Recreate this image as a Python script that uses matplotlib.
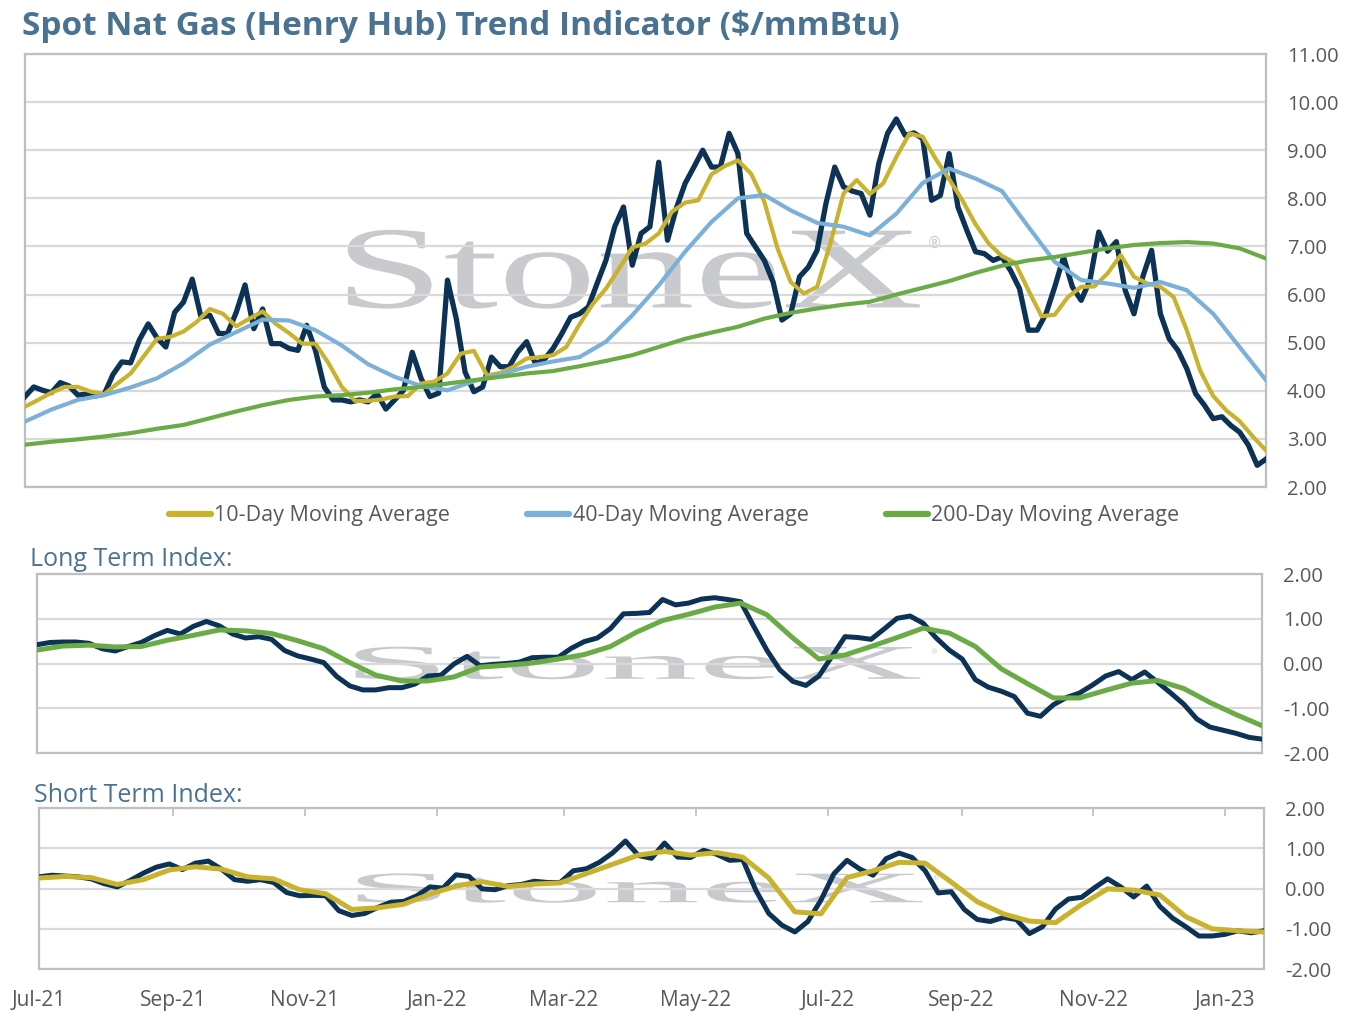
import numpy as np
import pandas as pd
import matplotlib
matplotlib.use('Agg')
import matplotlib.pyplot as plt
import matplotlib.dates as mdates
from matplotlib.textpath import TextPath
from matplotlib.patches import PathPatch
from matplotlib.font_manager import FontProperties
from matplotlib.transforms import Affine2D
from matplotlib.lines import Line2D

plt.rcParams['font.family'] = ['Open Sans', 'DejaVu Sans']

# %% data (evenly spaced samples between start and end)
date_start = '2021-07-01'
date_end = '2023-01-19'

spot_price = [
    3.88, 4.08, 4.01, 3.96, 4.17, 4.10, 3.91, 3.93, 3.89, 3.93,
    4.34, 4.60, 4.58, 5.06, 5.39, 5.10, 4.91, 5.63, 5.84, 6.32,
    5.53, 5.57, 5.19, 5.19, 5.63, 6.20, 5.29, 5.70, 4.98, 4.98,
    4.88, 4.84, 5.36, 4.84, 4.08, 3.81, 3.81, 3.77, 3.81, 3.77,
    3.94, 3.62, 3.81, 4.01, 4.80, 4.26, 3.88, 3.95, 6.30, 5.50,
    4.39, 3.98, 4.08, 4.70, 4.50, 4.50, 4.81, 5.02, 4.56, 4.65,
    4.88, 5.19, 5.53, 5.60, 5.74, 6.23, 6.71, 7.41, 7.82, 6.61,
    7.27, 7.41, 8.75, 7.13, 7.79, 8.31, 8.65, 9.00, 8.65, 8.65,
    9.35, 8.93, 7.27, 6.99, 6.71, 6.26, 5.47, 5.60, 6.37, 6.57,
    6.92, 7.89, 8.65, 8.24, 8.15, 8.10, 7.65, 8.72, 9.35, 9.65,
    9.31, 9.36, 9.24, 7.96, 8.06, 8.93, 7.82, 7.34, 6.89, 6.85,
    6.71, 6.78, 6.49, 6.12, 5.26, 5.26, 5.60, 6.16, 6.78, 6.16,
    5.88, 6.30, 7.30, 6.90, 7.10, 6.09, 5.60, 6.37, 6.92, 5.60,
    5.08, 4.84, 4.46, 3.94, 3.70, 3.42, 3.46, 3.28, 3.14, 2.87,
    2.45, 2.58]

ma_10 = [
    3.67, 3.81, 3.96, 4.08, 4.08, 3.98, 3.93, 4.15, 4.36, 4.72,
    5.08, 5.12, 5.23, 5.43, 5.70, 5.60, 5.34, 5.50, 5.65, 5.39,
    5.20, 4.98, 4.98, 4.57, 4.08, 3.79, 3.79, 3.82, 3.88, 3.89,
    4.15, 4.19, 4.36, 4.77, 4.83, 4.32, 4.37, 4.50, 4.67, 4.70,
    4.74, 4.91, 5.38, 5.80, 6.12, 6.54, 6.98, 7.06, 7.27, 7.72,
    7.91, 7.96, 8.50, 8.67, 8.79, 8.51, 7.93, 6.96, 6.26, 6.02,
    6.16, 7.06, 8.10, 8.38, 8.09, 8.31, 8.86, 9.35, 9.28, 8.81,
    8.40, 7.96, 7.46, 7.06, 6.80, 6.66, 6.09, 5.55, 5.58, 5.95,
    6.16, 6.17, 6.44, 6.82, 6.37, 6.23, 6.16, 5.95, 5.26, 4.43,
    3.89, 3.59, 3.37, 3.05, 2.76]

ma_40 = [
    3.36, 3.61, 3.81, 3.91, 4.07, 4.26, 4.57, 4.96, 5.22, 5.48,
    5.46, 5.26, 4.94, 4.55, 4.29, 4.10, 4.01, 4.20, 4.34, 4.50,
    4.61, 4.70, 5.02, 5.57, 6.19, 6.89, 7.51, 8.00, 8.07, 7.75,
    7.49, 7.41, 7.23, 7.68, 8.32, 8.62, 8.41, 8.15, 7.41, 6.68,
    6.30, 6.23, 6.14, 6.26, 6.09, 5.60, 4.91, 4.22]

ma_200 = [
    2.88, 2.94, 2.99, 3.05, 3.12, 3.21, 3.29, 3.43, 3.57, 3.70,
    3.81, 3.88, 3.91, 3.96, 4.03, 4.08, 4.15, 4.22, 4.29, 4.36,
    4.41, 4.51, 4.62, 4.74, 4.91, 5.08, 5.21, 5.33, 5.50, 5.62,
    5.71, 5.79, 5.85, 6.00, 6.14, 6.28, 6.45, 6.60, 6.71, 6.78,
    6.87, 6.96, 7.03, 7.07, 7.09, 7.06, 6.96, 6.75]

long_index = [
    0.42, 0.47, 0.48, 0.48, 0.45, 0.33, 0.28, 0.38, 0.47, 0.62,
    0.74, 0.66, 0.83, 0.94, 0.84, 0.66, 0.57, 0.60, 0.54, 0.29,
    0.17, 0.10, 0.02, -0.29, -0.50, -0.59, -0.59, -0.54, -0.54, -0.46,
    -0.28, -0.26, -0.01, 0.16, -0.05, -0.02, 0.00, 0.03, 0.13, 0.14,
    0.14, 0.34, 0.49, 0.57, 0.78, 1.11, 1.12, 1.14, 1.43, 1.31,
    1.35, 1.44, 1.47, 1.43, 1.38, 0.83, 0.30, -0.14, -0.40, -0.49,
    -0.28, 0.16, 0.60, 0.58, 0.54, 0.77, 1.01, 1.06, 0.90, 0.57,
    0.30, 0.10, -0.36, -0.53, -0.62, -0.74, -1.11, -1.18, -0.92, -0.76,
    -0.66, -0.48, -0.28, -0.18, -0.36, -0.19, -0.42, -0.66, -0.91, -1.24,
    -1.42, -1.49, -1.56, -1.65, -1.69]

long_signal = [
    0.30, 0.39, 0.41, 0.37, 0.38, 0.52, 0.63, 0.75, 0.73, 0.67,
    0.51, 0.33, 0.02, -0.26, -0.39, -0.39, -0.30, -0.08, -0.04, 0.01,
    0.10, 0.20, 0.38, 0.70, 0.96, 1.10, 1.26, 1.35, 1.09, 0.57,
    0.10, 0.19, 0.38, 0.58, 0.79, 0.68, 0.38, -0.12, -0.45, -0.77,
    -0.77, -0.60, -0.44, -0.38, -0.56, -0.87, -1.14, -1.39]

short_index = [
    0.29, 0.33, 0.31, 0.29, 0.24, 0.12, 0.04, 0.20, 0.38, 0.53,
    0.61, 0.47, 0.63, 0.68, 0.48, 0.22, 0.18, 0.22, 0.15, -0.10,
    -0.18, -0.17, -0.18, -0.55, -0.67, -0.62, -0.47, -0.34, -0.32, -0.18,
    0.04, 0.01, 0.34, 0.30, -0.01, -0.03, 0.07, 0.10, 0.18, 0.15,
    0.15, 0.44, 0.49, 0.65, 0.88, 1.18, 0.82, 0.75, 1.13, 0.78,
    0.77, 0.95, 0.85, 0.70, 0.72, -0.04, -0.62, -0.91, -1.08, -0.82,
    -0.29, 0.37, 0.70, 0.48, 0.33, 0.74, 0.88, 0.77, 0.44, -0.11,
    -0.08, -0.52, -0.77, -0.82, -0.72, -0.77, -1.12, -0.95, -0.51, -0.26,
    -0.22, 0.02, 0.24, 0.04, -0.21, 0.06, -0.44, -0.74, -0.95, -1.18,
    -1.18, -1.14, -1.05, -1.10, -1.05]

short_signal = [
    0.26, 0.30, 0.27, 0.10, 0.22, 0.46, 0.54, 0.48, 0.29, 0.24,
    -0.03, -0.13, -0.52, -0.48, -0.39, -0.14, 0.06, 0.17, 0.05, 0.11,
    0.14, 0.37, 0.60, 0.83, 0.92, 0.83, 0.89, 0.78, 0.26, -0.58,
    -0.63, 0.27, 0.44, 0.65, 0.63, 0.16, -0.33, -0.63, -0.81, -0.85,
    -0.40, -0.01, -0.04, -0.16, -0.70, -1.00, -1.05, -1.08]

legend_labels = ['10-Day Moving Average', '40-Day Moving Average',
                 '200-Day Moving Average']

# colours
c_navy = '#0c3355'
c_gold = '#c8b22e'
c_blue = '#7bb0d8'
c_green = '#6aab45'
c_grid = '#d9d9d9'
c_spine = '#bfbfbf'
c_text = '#595959'
c_head = '#4a7391'
c_mark = '#c9cacd'


def sample_dates(values):
    return pd.date_range(date_start, date_end, periods=len(values))


W, H = 1354., 1021.


def px_axes(left, top, right, bottom):
    # figure-fraction rectangle from pixel edges
    return [left/W, 1 - bottom/H, (right - left)/W, (bottom - top)/H]


def watermark(ax, reg_size):
    tp = TextPath((0, 0), 'StoneX', size=100,
                  prop=FontProperties(family='Liberation Serif'))
    ext = tp.get_extents()
    x0, x1, y0, y1 = 0.26, 0.721, 0.412, 0.594
    tr = (Affine2D().translate(-ext.x0, -ext.y0)
          .scale((x1 - x0)/ext.width, (y1 - y0)/ext.height)
          .translate(x0, y0))
    ax.add_patch(PathPatch(tr.transform_path(tp), transform=ax.transAxes,
                           fc=c_mark, ec='none', zorder=0.2))
    ax.text(0.733, 0.562, '\u00ae', transform=ax.transAxes, fontsize=reg_size,
            color=c_mark, ha='center', va='center', zorder=0.2,
            family='DejaVu Sans')


def style_axes(ax, ylim, yticks):
    ax.set_xlim(pd.Timestamp(date_start), pd.Timestamp(date_end))
    ax.set_ylim(ylim)
    ax.set_yticks(yticks)
    ax.yaxis.set_major_formatter(matplotlib.ticker.FormatStrFormatter('%.2f'))
    ax.yaxis.tick_right()
    ax.tick_params(axis='y', length=0, pad=15, labelsize=14.5,
                   labelcolor=c_text)
    ax.set_axisbelow(True)
    ax.grid(axis='y', color=c_grid, lw=1.6)
    ax.grid(axis='x', visible=False)
    for sp in ax.spines.values():
        sp.set_color(c_spine)
        sp.set_linewidth(1.6)
    ax.xaxis.set_major_locator(mdates.MonthLocator(bymonth=[1, 3, 5, 7, 9, 11]))
    ax.xaxis.set_major_formatter(mdates.DateFormatter('%b-%y'))


fig = plt.figure(figsize=(13.54, 10.21), dpi=100)

# %% main price panel
ax_p = fig.add_axes(px_axes(25, 54, 1266, 487))
ax_p.plot(sample_dates(spot_price), spot_price, color=c_navy, lw=3.8,
          zorder=3)
ax_p.plot(sample_dates(ma_10), ma_10, color=c_gold, lw=3.0, zorder=4)
ax_p.plot(sample_dates(ma_40), ma_40, color=c_blue, lw=3.0, zorder=5)
ax_p.plot(sample_dates(ma_200), ma_200, color=c_green, lw=3.0, zorder=6)
style_axes(ax_p, (2, 11), np.arange(2, 12, 1))
ax_p.tick_params(axis='x', bottom=False, labelbottom=False)
watermark(ax_p, 11)

handles = [Line2D([], [], color=c, lw=4.5, solid_capstyle='round')
           for c in (c_gold, c_blue, c_green)]
fig.legend(handles, legend_labels, loc='center',
           bbox_to_anchor=(674/W, 1 - 516/H), ncol=3, frameon=False,
           fontsize=15.5, handlelength=1.95, handletextpad=0.15,
           columnspacing=3.6, labelcolor=c_text)

# %% long term index panel
ax_l = fig.add_axes(px_axes(37, 574, 1262, 753))
ax_l.plot(sample_dates(long_index), long_index, color=c_navy, lw=3.6,
          zorder=3)
ax_l.plot(sample_dates(long_signal), long_signal, color=c_green, lw=3.6,
          zorder=4)
style_axes(ax_l, (-2, 2), np.arange(-2, 3, 1))
ax_l.tick_params(axis='x', bottom=False, labelbottom=False)
watermark(ax_l, 5)

# %% short term index panel
ax_s = fig.add_axes(px_axes(39, 808, 1264, 969))
ax_s.plot(sample_dates(short_index), short_index, color=c_navy, lw=3.6,
          zorder=3)
ax_s.plot(sample_dates(short_signal), short_signal, color=c_gold, lw=3.6,
          zorder=4)
style_axes(ax_s, (-2, 2), np.arange(-2, 3, 1))
ax_s.tick_params(axis='x', bottom=False, top=True, labelbottom=True,
                 labeltop=False, direction='in', length=6, width=1.2,
                 color=c_spine, labelsize=15, labelcolor=c_text, pad=15)
watermark(ax_s, 5)

# %% headings
fig.text(22/W, 1 - 26/H, 'Spot Nat Gas (Henry Hub) Trend Indicator ($/mmBtu)',
         fontsize=24, fontweight='bold', color=c_head, ha='left', va='center')
fig.text(30/W, 1 - 560/H, 'Long Term Index:', fontsize=18, color=c_head,
         ha='left', va='center')
fig.text(34/W, 1 - 795/H, 'Short Term Index:', fontsize=18, color=c_head,
         ha='left', va='center')

fig.savefig('out.png', dpi=100)
